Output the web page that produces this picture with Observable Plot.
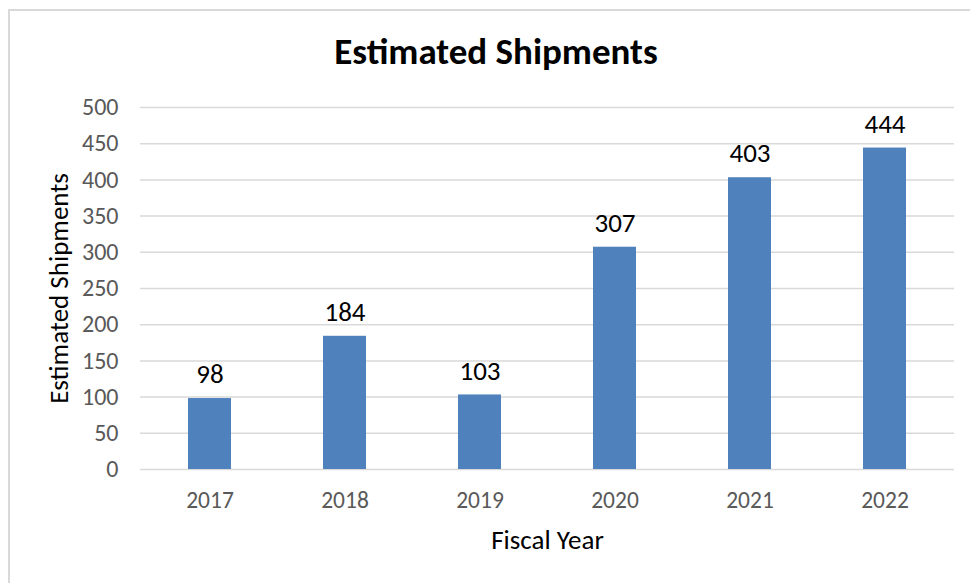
<!DOCTYPE html>
<html>
<head>
<meta charset="utf-8">
<script src="https://cdn.jsdelivr.net/npm/d3@7"></script>
<script src="https://cdn.jsdelivr.net/npm/@observablehq/plot@0.6"></script>
<style>
  html, body { margin: 0; padding: 0; background: #fff; }
  body { width: 970px; height: 583px; overflow: hidden; position: relative; font-family: Carlito, Calibri, Lato, "Open Sans", sans-serif; }
  #frame { position: absolute; left: 8px; top: 9px; width: 1000px; height: 700px; border-left: 2px solid #D9D9D9; border-top: 2px solid #D9D9D9; }
  #title { position: absolute; left: 0; width: 992px; top: 30px; text-align: center; font-size: 37px; font-weight: bold; color: #000; line-height: 44px; }
  #chart { position: absolute; left: 0; top: 80px; }
</style>
</head>
<body>
<div id="frame"></div>
<div id="title">Estimated Shipments</div>
<div id="chart"></div>
<script>
const years = ["2017", "2018", "2019", "2020", "2021", "2022"];
const shipments = [98, 184, 103, 307, 403, 444];
const yTicks = [0, 50, 100, 150, 200, 250, 300, 350, 400, 450, 500];

const data = years.map((y, i) => ({year: y, value: shipments[i]}));
const font = "Carlito, Calibri, Lato, 'Open Sans', sans-serif";

const chart = Plot.plot({
  width: 970,
  height: 503,
  marginLeft: 140,
  marginRight: 16,
  marginTop: 27,
  marginBottom: 114,
  style: {fontFamily: font, background: "transparent", overflow: "visible"},
  x: {domain: years, paddingInner: 0.683, paddingOuter: 0.3415, label: null},
  y: {domain: [0, 500], ticks: yTicks, label: null},
  marks: [
    Plot.gridY(yTicks, {stroke: "#D9D9D9", strokeOpacity: 1, strokeWidth: 1.5}),
    Plot.barY(data, {x: "year", y: "value", fill: "#4F81BD"}),
    Plot.text(data, {x: "year", y: "value", text: d => String(d.value), dy: -24, fontSize: 27, fill: "#000", lineAnchor: "middle"}),
    Plot.axisY(yTicks, {tickSize: 0, tickPadding: 22, fontSize: 24, fill: "#595959", label: null}),
    Plot.axisX({tickSize: 0, tickPadding: 22, fontSize: 23.5, fill: "#595959", label: null}),
    Plot.text(["Estimated Shipments"], {frameAnchor: "left", dx: -81, rotate: -90, fontSize: 27, fill: "#000", textAnchor: "middle"}),
    Plot.text(["Fiscal Year"], {frameAnchor: "bottom", dy: 71, fontSize: 27, fill: "#000", lineAnchor: "middle"})
  ]
});
document.getElementById("chart").appendChild(chart);
</script>
</body>
</html>
